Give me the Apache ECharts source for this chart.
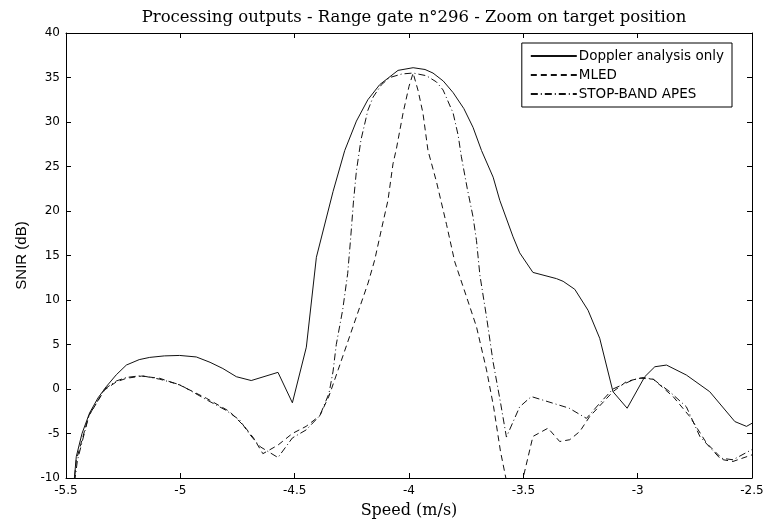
<!DOCTYPE html>
<html>
<head>
<meta charset="utf-8">
<script src="https://cdn.jsdelivr.net/npm/echarts@6/dist/echarts.min.js"></script>
<style>html,body{margin:0;padding:0;background:#fff}#c{width:764px;height:524px}</style>
</head>
<body>
<div id="c"></div>
<script>
const seriesNames = ['Doppler analysis only', 'MLED', 'STOP-BAND APES'];
const xRange = [-5.5, -2.5];
const yRange = [-10, 40];

const doppler = [
  [-5.47,-12],[-5.455,-7.6],[-5.43,-5.0],[-5.397,-2.7],[-5.36,-1.0],[-5.324,0.26],[-5.28,1.6],
  [-5.236,2.69],[-5.18,3.3],[-5.134,3.55],[-5.07,3.72],[-5.003,3.77],[-4.93,3.6],[-4.87,3.0],
  [-4.814,2.3],[-4.755,1.38],[-4.69,0.95],[-4.573,1.87],[-4.51,-1.55],[-4.449,4.7],[-4.405,14.8],
  [-4.332,22.2],[-4.281,26.8],[-4.23,30.1],[-4.18,32.5],[-4.128,34.2],[-4.048,35.8],[-3.982,36.1],
  [-3.93,35.9],[-3.895,35.5],[-3.85,34.6],[-3.807,33.3],[-3.76,31.5],[-3.72,29.4],[-3.683,26.8],
  [-3.632,23.8],[-3.603,21.2],[-3.545,17.1],[-3.516,15.3],[-3.458,13.1],[-3.355,12.4],[-3.326,12.1],
  [-3.275,11.2],[-3.217,8.85],[-3.166,5.7],[-3.108,-0.3],[-3.046,-2.16],[-2.969,1.38],[-2.925,2.5],
  [-2.874,2.69],[-2.787,1.57],[-2.685,-0.3],[-2.575,-3.66],[-2.524,-4.2],[-2.5,-3.85]
];

const mled = [
  [-5.47,-12],[-5.455,-8],[-5.40,-3.0],[-5.331,-0.1],[-5.28,0.8],[-5.236,1.2],[-5.17,1.45],
  [-5.09,1.2],[-5.003,0.45],[-4.886,-1.04],[-4.784,-2.54],[-4.72,-4.2],[-4.68,-5.5],[-4.639,-7.27],
  [-4.573,-6.3],[-4.51,-5.0],[-4.45,-4.2],[-4.39,-3.0],[-4.35,-0.8],[-4.31,2.15],[-4.245,7.0],
  [-4.179,11.9],[-4.15,14.5],[-4.12,18.0],[-4.092,21.2],[-4.07,25.3],[-4.055,27.0],[-4.026,31.0],
  [-4.0,34.0],[-3.982,35.5],[-3.96,33.5],[-3.939,31.0],[-3.917,26.8],[-3.88,23.3],[-3.836,18.5],
  [-3.8,14.3],[-3.749,10.4],[-3.705,7.0],[-3.661,2.15],[-3.63,-2.0],[-3.60,-7.0],[-3.545,-14.0],
  [-3.501,-10.0],[-3.458,-5.33],[-3.392,-4.4],[-3.341,-5.9],[-3.297,-5.7],[-3.253,-4.77],[-3.21,-3.1],
  [-3.108,-0.3],[-3.049,0.84],[-2.99,1.22],[-2.932,1.1],[-2.845,-0.85],[-2.772,-3.1],[-2.699,-6.07],
  [-2.626,-7.95],[-2.583,-8.14],[-2.5,-7.4]
];

const apes = [
  [-5.47,-12],[-5.45,-8],[-5.40,-3.0],[-5.331,0.0],[-5.28,0.9],[-5.236,1.3],[-5.17,1.5],
  [-5.09,1.1],[-5.003,0.5],[-4.886,-1.2],[-4.80,-2.4],[-4.74,-3.5],[-4.70,-5.0],[-4.65,-6.5],
  [-4.573,-7.7],[-4.51,-5.5],[-4.45,-4.6],[-4.39,-3.0],[-4.35,-0.5],[-4.332,2.0],[-4.318,5.0],
  [-4.29,8.9],[-4.268,13.0],[-4.255,17.0],[-4.243,21.0],[-4.23,24.5],[-4.21,28.0],[-4.18,31.3],
  [-4.157,32.8],[-4.12,34.2],[-4.084,35.0],[-4.03,35.4],[-3.982,35.5],[-3.924,35.2],[-3.88,34.5],
  [-3.851,33.6],[-3.807,31.0],[-3.785,28.5],[-3.771,26.1],[-3.745,22.5],[-3.72,19.35],[-3.705,16.7],
  [-3.69,12.8],[-3.661,8.1],[-3.632,3.0],[-3.60,-1.5],[-3.574,-5.4],[-3.516,-2.0],[-3.465,-0.85],
  [-3.37,-1.6],[-3.30,-2.15],[-3.224,-3.3],[-3.166,-1.6],[-3.108,0.0],[-3.02,1.03],[-2.976,1.29],
  [-2.932,1.1],[-2.86,-0.3],[-2.787,-2.0],[-2.728,-5.33],[-2.641,-7.76],[-2.583,-7.95],[-2.5,-6.8]
];

const chart = echarts.init(document.getElementById('c'), null, {renderer: 'canvas'});
const sans = 'DejaVu Sans, Liberation Sans, sans-serif';
const serif = 'DejaVu Serif, Liberation Serif, serif';
const tickFont = {color: '#000', fontFamily: sans, fontSize: 12};
const axisLine = {show: true, onZero: false, lineStyle: {color: '#000', width: 1}};
const axisTick = {show: true, inside: true, length: 5, lineStyle: {color: '#000'}};

chart.setOption({
  animation: false,
  backgroundColor: '#fff',
  title: {
    text: 'Processing outputs - Range gate n°296 - Zoom on target position',
    left: 409, top: 4, textAlign: 'center',
    textStyle: {fontFamily: serif, fontSize: 16.5, fontWeight: 'normal', color: '#000'}
  },
  grid: {left: 66, right: 12, top: 33, bottom: 46, containLabel: false, outerBoundsMode: 'none'},
  legend: {
    orient: 'vertical', right: 32, top: 43,
    itemWidth: 46, itemHeight: 12, itemGap: 5,
    backgroundColor: '#fff', borderColor: '#000', borderWidth: 1, borderRadius: 0,
    padding: [6, 8, 6, 8],
    itemStyle: {opacity: 0},
    textStyle: {fontFamily: sans, fontSize: 13.5, color: '#000', padding: [0, 0, 0, -3]},
    data: seriesNames
  },
  xAxis: [{
    type: 'value', min: xRange[0], max: xRange[1], interval: 0.5,
    name: 'Speed (m/s)', nameLocation: 'middle', nameGap: 25,
    nameTextStyle: {fontFamily: serif, fontSize: 16, color: '#000'},
    axisLine: axisLine, axisTick: axisTick, axisLabel: Object.assign({margin: 7}, tickFont),
    splitLine: {show: false}
  }, {
    type: 'value', position: 'top', min: xRange[0], max: xRange[1], interval: 0.5,
    axisLine: axisLine, axisTick: axisTick, axisLabel: {show: false}, splitLine: {show: false}
  }],
  yAxis: [{
    type: 'value', min: yRange[0], max: yRange[1], interval: 5,
    name: 'SNIR (dB)', nameLocation: 'middle', nameGap: 31,
    nameTextStyle: {fontFamily: 'Liberation Sans, Arial, sans-serif', fontSize: 15, color: '#000'},
    axisLine: axisLine, axisTick: axisTick, axisLabel: Object.assign({margin: 6}, tickFont),
    splitLine: {show: false}
  }, {
    type: 'value', position: 'right', min: yRange[0], max: yRange[1], interval: 5,
    axisLine: axisLine, axisTick: axisTick, axisLabel: {show: false}, splitLine: {show: false}
  }],
  series: [
    {name: seriesNames[0], type: 'line', data: doppler, symbol: 'none', clip: true,
     lineStyle: {color: '#111', width: 1, type: 'solid'}, itemStyle: {color: '#111'}},
    {name: seriesNames[1], type: 'line', data: mled, symbol: 'none', clip: true,
     lineStyle: {color: '#111', width: 1, type: [6, 4]}, itemStyle: {color: '#111'}},
    {name: seriesNames[2], type: 'line', data: apes, symbol: 'none', clip: true,
     lineStyle: {color: '#111', width: 1, type: [7, 3, 1, 3]}, itemStyle: {color: '#111'}}
  ]
});
</script>
</body>
</html>
